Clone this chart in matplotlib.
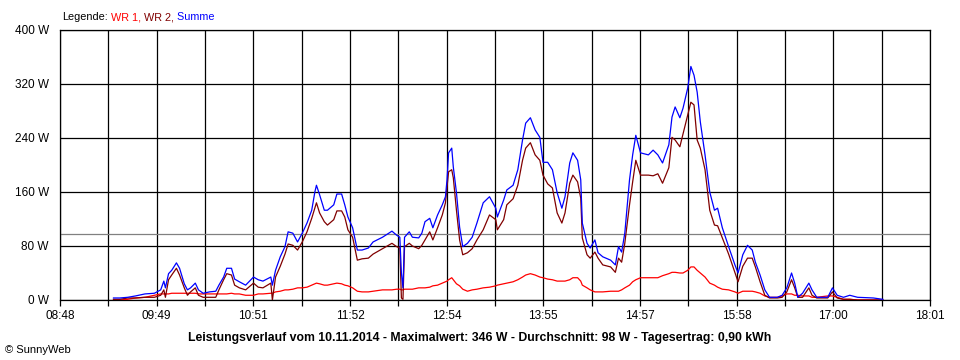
import matplotlib
matplotlib.use("Agg")
import matplotlib.pyplot as plt

# Messzeitpunkte und Leistung (W)
zeiten = [
    "09:22", "09:26", "09:31", "09:36", "09:42", "09:48", "09:52", "09:54", "09:55", "09:57",
    "09:59", "10:02", "10:04", "10:07", "10:09", "10:11", "10:14", "10:16", "10:19", "10:23",
    "10:27", "10:29", "10:32", "10:34", "10:37", "10:39", "10:42", "10:46", "10:51", "10:54",
    "10:57", "11:02", "11:03", "11:05", "11:08", "11:11", "11:13", "11:16", "11:19", "11:22",
    "11:25", "11:28", "11:30", "11:31", "11:33", "11:36", "11:38", "11:42", "11:44", "11:47",
    "11:49", "11:51", "11:54", "11:57", "12:00", "12:04", "12:07", "12:13", "12:19", "12:22",
    "12:24", "12:25", "12:26", "12:27", "12:30", "12:32", "12:36", "12:38", "12:40", "12:43",
    "12:45", "12:48", "12:51", "12:53", "12:54", "12:55", "12:57", "12:58", "13:00", "13:02",
    "13:04", "13:07", "13:10", "13:13", "13:17", "13:21", "13:25", "13:26", "13:30", "13:32",
    "13:36", "13:39", "13:42", "13:44", "13:47", "13:50", "13:53", "13:55", "13:58", "14:01",
    "14:04", "14:07", "14:09", "14:12", "14:14", "14:17", "14:19", "14:20", "14:23", "14:25",
    "14:28", "14:30", "14:33", "14:38", "14:41", "14:43", "14:45", "14:47", "14:50", "14:52",
    "14:54", "14:57", "15:02", "15:05", "15:08", "15:11", "15:15", "15:17", "15:19", "15:22",
    "15:24", "15:27", "15:29", "15:31", "15:33", "15:35", "15:38", "15:41", "15:44", "15:46",
    "15:49", "15:53", "15:57", "15:59", "16:02", "16:05", "16:08", "16:10", "16:13", "16:16",
    "16:19", "16:24", "16:27", "16:30", "16:33", "16:35", "16:37", "16:40", "16:44", "16:46",
    "16:49", "16:56", "16:59", "17:02", "17:06", "17:10", "17:15", "17:25", "17:31",
]

summe = [
    3, 3, 4, 6, 9, 10, 15, 28, 18, 39,
    44, 55, 47, 24, 15, 18, 25, 15, 10, 12,
    13, 22, 34, 47, 47, 31, 27, 22, 34, 30,
    28, 34, 22, 44, 64, 79, 101, 99, 86, 99,
    114, 133, 160, 170, 156, 133, 133, 141, 157, 157,
    141, 123, 107, 74, 74, 77, 86, 93, 102, 96,
    93, 40, 18, 93, 101, 93, 92, 99, 116, 121,
    107, 126, 141, 153, 178, 218, 225, 197, 159, 108,
    79, 84, 93, 114, 144, 153, 136, 123, 148, 163,
    170, 193, 237, 262, 270, 252, 241, 204, 204, 193,
    159, 136, 153, 203, 218, 207, 178, 114, 84, 77,
    89, 70, 64, 59, 52, 79, 71, 99, 178, 215,
    244, 218, 215, 222, 215, 203, 230, 271, 286, 270,
    284, 314, 346, 333, 308, 264, 215, 160, 133, 136,
    107, 79, 52, 40, 67, 81, 74, 56, 37, 15,
    4, 4, 7, 18, 40, 25, 4, 10, 25, 15,
    4, 4, 18, 7, 4, 7, 4, 3, 1,
]

wr2 = [
    1, 1, 3, 3, 4, 4, 7, 15, 4, 30,
    37, 47, 37, 18, 7, 12, 18, 7, 4, 4,
    4, 15, 30, 39, 37, 22, 18, 15, 25, 19,
    18, 25, 0, 34, 50, 68, 83, 81, 74, 86,
    101, 121, 136, 144, 129, 116, 111, 119, 132, 132,
    123, 104, 93, 59, 61, 62, 68, 76, 84, 79,
    77, 3, 1, 79, 84, 80, 76, 81, 89, 101,
    89, 107, 126, 144, 167, 190, 193, 181, 133, 89,
    67, 70, 76, 89, 104, 126, 119, 104, 119, 141,
    150, 170, 207, 225, 233, 215, 207, 185, 172, 166,
    129, 114, 129, 173, 185, 175, 151, 92, 67, 62,
    71, 62, 52, 49, 41, 62, 56, 84, 141, 175,
    207, 185, 185, 184, 187, 173, 196, 241, 237, 227,
    246, 274, 293, 289, 237, 225, 193, 133, 111, 110,
    92, 68, 41, 27, 50, 62, 62, 49, 27, 7,
    3, 3, 4, 12, 30, 18, 4, 4, 18, 7,
    3, 3, 12, 3, 1, 1, 0, 0, 0,
]

wr1 = [
    0, 0, 1, 3, 4, 7, 9, 9, 9, 9,
    10, 10, 10, 10, 10, 10, 10, 9, 9, 9,
    9, 9, 9, 9, 10, 9, 9, 7, 7, 9,
    9, 10, 10, 12, 13, 15, 15, 16, 18, 18,
    19, 22, 24, 25, 24, 22, 22, 24, 25, 24,
    22, 21, 18, 13, 12, 12, 13, 15, 15, 16,
    16, 15, 15, 16, 16, 16, 18, 18, 18, 19,
    21, 22, 25, 27, 28, 30, 33, 30, 24, 21,
    16, 13, 15, 16, 18, 19, 21, 22, 24, 25,
    27, 30, 34, 37, 39, 37, 34, 33, 31, 30,
    28, 28, 28, 30, 33, 33, 28, 22, 18, 15,
    12, 12, 12, 13, 13, 13, 15, 18, 22, 27,
    30, 33, 33, 33, 33, 36, 39, 41, 41, 40,
    40, 44, 49, 49, 44, 40, 34, 25, 22, 19,
    16, 15, 12, 10, 13, 13, 13, 12, 10, 6,
    4, 4, 6, 9, 9, 7, 7, 6, 6, 4,
    4, 6, 6, 4, 1, 1, 0, 0, 0,
]

durchschnitt = 98
y_ticks = [0, 80, 160, 240, 320, 400]
y_labels = ["0 W", "80 W", "160 W", "240 W", "320 W", "400 W"]
x_labels = ["08:48", "09:49", "10:51", "11:52", "12:54", "13:55", "14:57", "15:58", "17:00", "18:01"]
titel = ("Leistungsverlauf vom 10.11.2014 - Maximalwert: 346 W - Durchschnitt: 98 W"
         " - Tagesertrag: 0,90 kWh")


def minuten(s):
    h, m = s.split(":")
    return int(h) * 60 + int(m)


t = [minuten(z) for z in zeiten]
t_start = minuten(x_labels[0])
t_end = minuten(x_labels[-1])

plt.rcParams["font.family"] = ["Liberation Sans", "DejaVu Sans"]
plt.rcParams["font.size"] = 8.5

fig = plt.figure(figsize=(9.6, 3.6), dpi=100)
ax = fig.add_axes([60 / 960, 60 / 360, 870 / 960, 270 / 360])

# Raster
n = 18
x_grid = [t_start + i * (t_end - t_start) / n for i in range(n + 1)]
for x in x_grid:
    ax.axvline(x, color="black", lw=0.9, zorder=1)
for y in y_ticks:
    ax.axhline(y, color="black", lw=0.9, zorder=1)
ax.axhline(durchschnitt, color="#808080", lw=0.9, zorder=1)

ax.plot(t, wr1, color="#ff0000", lw=0.9, zorder=3)
ax.plot(t, wr2, color="#800000", lw=0.9, zorder=3)
ax.plot(t, summe, color="#0000ff", lw=0.9, zorder=4)

ax.set_xlim(t_start, t_end)
ax.set_ylim(0, 400)
ax.set_xticks(x_grid)
ax.set_xticklabels([x_labels[i // 2] if i % 2 == 0 else "" for i in range(n + 1)])
ax.set_yticks(y_ticks)
ax.set_yticklabels(y_labels)
ax.tick_params(axis="x", length=4, width=0.9, pad=3)
ax.tick_params(axis="y", length=0, pad=8)
for s in ax.spines.values():
    s.set_linewidth(0.9)

# Legende oben links, mehrfarbig
renderer = fig.canvas.get_renderer()
x = 62 / 960
for txt, col in [("Legende:", "black"), (" WR 1,", "#ff0000"), (" WR 2,", "#800000"), (" Summe", "#0000ff")]:
    tx = fig.text(x, 1 - 17 / 360, txt, color=col, va="center", ha="left", fontsize=7.8)
    x += tx.get_window_extent(renderer).width / fig.bbox.width

fig.text(0.5, 1 - 338 / 360, titel, ha="center", va="center", fontweight="bold", fontsize=8.8)
fig.text(5 / 960, 1 - 350 / 360, "© SunnyWeb", ha="left", va="center", fontsize=8)

fig.savefig("out.png", dpi=100)
